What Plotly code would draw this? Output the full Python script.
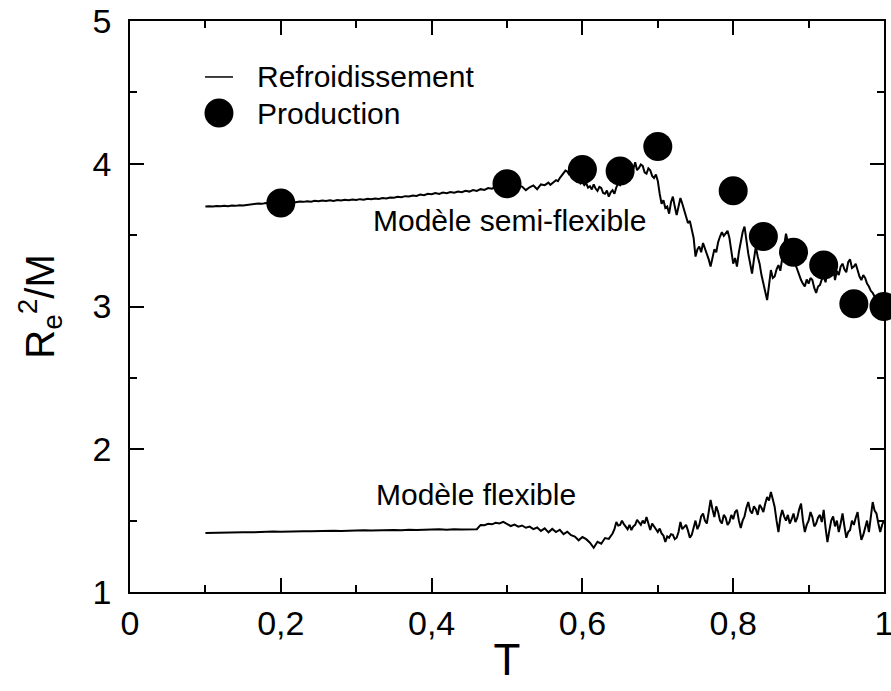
import plotly.graph_objects as go

# --- Data -------------------------------------------------------------
# Cooling run ("Refroidissement"), semi-flexible model: (T, Re^2/M)
semi_pts = [
    (0.100, 3.700), (0.105, 3.703), (0.110, 3.700), (0.115, 3.704), (0.120, 3.702),
    (0.125, 3.706), (0.130, 3.703), (0.135, 3.707), (0.140, 3.705), (0.145, 3.710),
    (0.150, 3.708), (0.155, 3.712), (0.160, 3.711), (0.165, 3.716), (0.170, 3.722),
    (0.175, 3.719), (0.180, 3.725), (0.185, 3.723), (0.190, 3.727), (0.195, 3.725),
    (0.200, 3.728), (0.205, 3.730), (0.210, 3.727), (0.215, 3.732), (0.220, 3.730),
    (0.225, 3.735), (0.230, 3.733), (0.235, 3.738), (0.240, 3.734), (0.245, 3.740),
    (0.250, 3.737), (0.255, 3.742), (0.260, 3.739), (0.265, 3.744), (0.270, 3.740),
    (0.275, 3.746), (0.280, 3.742), (0.285, 3.748), (0.290, 3.745), (0.295, 3.750),
    (0.300, 3.746), (0.305, 3.752), (0.310, 3.748), (0.315, 3.755), (0.320, 3.751),
    (0.325, 3.757), (0.330, 3.753), (0.335, 3.760), (0.340, 3.757), (0.345, 3.764),
    (0.350, 3.762), (0.355, 3.768), (0.360, 3.765), (0.365, 3.773), (0.370, 3.770),
    (0.375, 3.778), (0.380, 3.775), (0.385, 3.784), (0.390, 3.780), (0.395, 3.790),
    (0.400, 3.786), (0.405, 3.795), (0.410, 3.788), (0.415, 3.798), (0.420, 3.794),
    (0.425, 3.802), (0.430, 3.797), (0.435, 3.806), (0.440, 3.800), (0.445, 3.810),
    (0.450, 3.805), (0.455, 3.816), (0.460, 3.810), (0.465, 3.822), (0.470, 3.817),
    (0.475, 3.830), (0.480, 3.825), (0.485, 3.838), (0.490, 3.835), (0.495, 3.845),
    (0.500, 3.842), (0.505, 3.848), (0.510, 3.836), (0.515, 3.845), (0.520, 3.840),
    (0.525, 3.815), (0.530, 3.835), (0.535, 3.848), (0.540, 3.822), (0.545, 3.855),
    (0.5500, 3.850), (0.5525, 3.862), (0.5550, 3.868), (0.5575, 3.852), (0.5600, 3.860),
    (0.5625, 3.874), (0.5650, 3.885), (0.5675, 3.878), (0.5700, 3.900), (0.5725, 3.918),
    (0.5750, 3.935), (0.5775, 3.952), (0.5800, 3.945), (0.5825, 3.925), (0.5850, 3.930),
    (0.5875, 3.905), (0.5900, 3.915), (0.5925, 3.880), (0.5950, 3.890), (0.5975, 3.862),
    (0.6000, 3.870), (0.6025, 3.850), (0.6050, 3.865), (0.6075, 3.832), (0.6100, 3.842),
    (0.6125, 3.820), (0.6150, 3.855), (0.6175, 3.826), (0.6200, 3.810), (0.6225, 3.838),
    (0.6250, 3.830), (0.6275, 3.795), (0.6300, 3.790), (0.6325, 3.812), (0.6350, 3.770),
    (0.6375, 3.800), (0.6400, 3.815), (0.6425, 3.790), (0.6450, 3.835), (0.6475, 3.860),
    (0.6500, 3.850), (0.6525, 3.880), (0.6550, 3.900), (0.6575, 3.935), (0.6600, 3.960),
    (0.6625, 3.945), (0.6650, 3.985), (0.6675, 3.962), (0.6700, 4.010), (0.6725, 3.955),
    (0.6750, 3.970), (0.6775, 3.995), (0.6800, 3.985), (0.6825, 3.940), (0.6850, 3.930),
    (0.6875, 3.968), (0.6900, 3.955), (0.6925, 3.915), (0.6950, 3.900), (0.6975, 3.925),
    (0.7000, 3.880), (0.7025, 3.790), (0.7050, 3.720), (0.7075, 3.745), (0.7100, 3.690),
    (0.7125, 3.700), (0.7150, 3.650), (0.7175, 3.730), (0.7200, 3.770), (0.7225, 3.700),
    (0.7250, 3.640), (0.7275, 3.700), (0.7300, 3.760), (0.7325, 3.720), (0.7350, 3.680),
    (0.7375, 3.640), (0.7400, 3.585), (0.7425, 3.600), (0.7450, 3.550), (0.7475, 3.480),
    (0.7500, 3.350), (0.7525, 3.400), (0.7550, 3.420), (0.7575, 3.380), (0.7600, 3.445),
    (0.7625, 3.410), (0.7650, 3.370), (0.7675, 3.330), (0.7700, 3.280), (0.7725, 3.350),
    (0.7750, 3.400), (0.7775, 3.380), (0.7800, 3.450), (0.7825, 3.490), (0.7850, 3.520),
    (0.7875, 3.495), (0.7900, 3.510), (0.7925, 3.530), (0.7950, 3.480), (0.7975, 3.380),
    (0.8000, 3.300), (0.8025, 3.340), (0.8050, 3.280), (0.8075, 3.380), (0.8100, 3.450),
    (0.8125, 3.520), (0.8150, 3.560), (0.8175, 3.450), (0.8200, 3.370), (0.8225, 3.300),
    (0.8250, 3.230), (0.8275, 3.330), (0.8300, 3.420), (0.8325, 3.350), (0.8350, 3.300),
    (0.8375, 3.220), (0.8400, 3.165), (0.8425, 3.100), (0.8450, 3.045), (0.8475, 3.150),
    (0.8500, 3.255), (0.8525, 3.200), (0.8550, 3.210), (0.8575, 3.260), (0.8600, 3.290),
    (0.8625, 3.250), (0.8650, 3.330), (0.8675, 3.420), (0.8700, 3.510), (0.8725, 3.450),
    (0.8750, 3.420), (0.8775, 3.370), (0.8800, 3.330), (0.8825, 3.290), (0.8850, 3.250),
    (0.8875, 3.210), (0.8900, 3.185), (0.8925, 3.160), (0.8950, 3.140), (0.8975, 3.190),
    (0.9000, 3.160), (0.9025, 3.200), (0.9050, 3.185), (0.9075, 3.130), (0.9100, 3.095),
    (0.9125, 3.140), (0.9150, 3.150), (0.9175, 3.190), (0.9200, 3.210), (0.9225, 3.170),
    (0.9250, 3.255), (0.9275, 3.220), (0.9300, 3.240), (0.9325, 3.290), (0.9350, 3.185),
    (0.9375, 3.250), (0.9400, 3.220), (0.9425, 3.280), (0.9450, 3.300), (0.9475, 3.260),
    (0.9500, 3.240), (0.9525, 3.310), (0.9550, 3.330), (0.9575, 3.270), (0.9600, 3.280),
    (0.9625, 3.300), (0.9650, 3.250), (0.9675, 3.210), (0.9700, 3.185), (0.9725, 3.220),
    (0.9750, 3.200), (0.9775, 3.160), (0.9800, 3.140), (0.9825, 3.110), (0.9850, 3.095),
    (0.9875, 3.070), (0.9900, 3.060), (0.9925, 3.075), (0.9950, 3.045), (0.9975, 3.060),
    (1.0000, 3.050),
]
T_semi = [p[0] for p in semi_pts]
R2_semi = [p[1] for p in semi_pts]

# Cooling run ("Refroidissement"), flexible model: (T, Re^2/M)
flex_pts = [
    (0.10, 1.413), (0.11, 1.415), (0.12, 1.414), (0.13, 1.417), (0.14, 1.416),
    (0.15, 1.419), (0.16, 1.418), (0.17, 1.421), (0.18, 1.420), (0.19, 1.423),
    (0.20, 1.422), (0.21, 1.425), (0.22, 1.423), (0.23, 1.426), (0.24, 1.425),
    (0.25, 1.428), (0.26, 1.426), (0.27, 1.429), (0.28, 1.428), (0.29, 1.431),
    (0.30, 1.429), (0.31, 1.432), (0.32, 1.430), (0.33, 1.433), (0.34, 1.431),
    (0.35, 1.435), (0.36, 1.432), (0.37, 1.436), (0.38, 1.434), (0.39, 1.437),
    (0.40, 1.435), (0.41, 1.439), (0.42, 1.436), (0.43, 1.440), (0.44, 1.437),
    (0.45, 1.441), (0.46, 1.440),
    (0.465, 1.470), (0.470, 1.468), (0.475, 1.478), (0.480, 1.474), (0.485, 1.485),
    (0.490, 1.480), (0.495, 1.492), (0.500, 1.478), (0.505, 1.462), (0.510, 1.472),
    (0.515, 1.458), (0.520, 1.466), (0.525, 1.450), (0.530, 1.458), (0.535, 1.440),
    (0.540, 1.452), (0.545, 1.428), (0.550, 1.446), (0.555, 1.418), (0.560, 1.442),
    (0.565, 1.420), (0.570, 1.436), (0.575, 1.405), (0.580, 1.422), (0.585, 1.398),
    (0.590, 1.388), (0.595, 1.362), (0.600, 1.385), (0.605, 1.370), (0.610, 1.345),
    (0.615, 1.310), (0.620, 1.352), (0.625, 1.338), (0.630, 1.378), (0.635, 1.372),
    (0.640, 1.410),
    (0.6425, 1.440), (0.6450, 1.490), (0.6475, 1.465), (0.6500, 1.470), (0.6525, 1.500),
    (0.6550, 1.475), (0.6575, 1.455), (0.6600, 1.440), (0.6625, 1.470), (0.6650, 1.434),
    (0.6675, 1.460), (0.6700, 1.470), (0.6725, 1.505), (0.6750, 1.490), (0.6775, 1.470),
    (0.6800, 1.500), (0.6825, 1.480), (0.6850, 1.525), (0.6875, 1.470), (0.6900, 1.434),
    (0.6925, 1.480), (0.6950, 1.460), (0.6975, 1.440), (0.7000, 1.420), (0.7025, 1.445),
    (0.7050, 1.410), (0.7075, 1.395), (0.7100, 1.350), (0.7125, 1.390), (0.7150, 1.380),
    (0.7175, 1.405), (0.7200, 1.400), (0.7225, 1.370), (0.7250, 1.380), (0.7275, 1.420),
    (0.7300, 1.490), (0.7325, 1.440), (0.7350, 1.455), (0.7375, 1.470), (0.7400, 1.430),
    (0.7425, 1.380), (0.7450, 1.400), (0.7475, 1.450), (0.7500, 1.500), (0.7525, 1.440),
    (0.7550, 1.470), (0.7575, 1.530), (0.7600, 1.550), (0.7625, 1.500), (0.7650, 1.480),
    (0.7675, 1.560), (0.7700, 1.645), (0.7725, 1.580), (0.7750, 1.525), (0.7775, 1.600),
    (0.7800, 1.560), (0.7825, 1.500), (0.7850, 1.480), (0.7875, 1.540), (0.7900, 1.520),
    (0.7925, 1.470), (0.7950, 1.490), (0.7975, 1.540), (0.8000, 1.510), (0.8025, 1.560),
    (0.8050, 1.575), (0.8075, 1.500), (0.8100, 1.448), (0.8125, 1.500), (0.8150, 1.530),
    (0.8175, 1.590), (0.8200, 1.630), (0.8225, 1.570), (0.8250, 1.550), (0.8275, 1.600),
    (0.8300, 1.580), (0.8325, 1.540), (0.8350, 1.610), (0.8375, 1.590), (0.8400, 1.560),
    (0.8425, 1.620), (0.8450, 1.665), (0.8475, 1.640), (0.8500, 1.700), (0.8525, 1.650),
    (0.8550, 1.595), (0.8575, 1.500), (0.8600, 1.420), (0.8625, 1.520), (0.8650, 1.575),
    (0.8675, 1.530), (0.8700, 1.500), (0.8725, 1.540), (0.8750, 1.480), (0.8775, 1.510),
    (0.8800, 1.550), (0.8825, 1.490), (0.8850, 1.520), (0.8875, 1.580), (0.8900, 1.620),
    (0.8925, 1.500), (0.8950, 1.420), (0.8975, 1.470), (0.9000, 1.500), (0.9025, 1.560),
    (0.9050, 1.525), (0.9075, 1.460), (0.9100, 1.480), (0.9125, 1.520), (0.9150, 1.540),
    (0.9175, 1.490), (0.9200, 1.575), (0.9225, 1.450), (0.9250, 1.350), (0.9275, 1.430),
    (0.9300, 1.500), (0.9325, 1.530), (0.9350, 1.460), (0.9375, 1.500), (0.9400, 1.420),
    (0.9425, 1.480), (0.9450, 1.550), (0.9475, 1.460), (0.9500, 1.380), (0.9525, 1.420),
    (0.9550, 1.434), (0.9575, 1.500), (0.9600, 1.470), (0.9625, 1.520), (0.9650, 1.560),
    (0.9675, 1.450), (0.9700, 1.365), (0.9725, 1.400), (0.9750, 1.448), (0.9775, 1.500),
    (0.9800, 1.420), (0.9825, 1.520), (0.9850, 1.630), (0.9875, 1.570), (0.9900, 1.550),
    (0.9925, 1.480), (0.9950, 1.420), (0.9975, 1.470), (1.0000, 1.500),
]
T_flex = [p[0] for p in flex_pts]
R2_flex = [p[1] for p in flex_pts]

# Production runs (points)
T_prod = [0.20, 0.50, 0.60, 0.65, 0.70, 0.80, 0.84, 0.88, 0.92, 0.96, 1.00]
R2_prod = [3.725, 3.86, 3.96, 3.95, 4.12, 3.81, 3.49, 3.38, 3.29, 3.02, 3.00]

x_tickvals = [0, 0.2, 0.4, 0.6, 0.8, 1.0]
x_ticktext = ["0", "0,2", "0,4", "0,6", "0,8", "1"]
y_tickvals = [1, 2, 3, 4, 5]
y_ticktext = ["1", "2", "3", "4", "5"]

legend_labels = ["Refroidissement", "Production"]
curve_labels = ["Modèle semi-flexible", "Modèle flexible"]

FONT = "Liberation Sans, Arial, Helvetica, sans-serif"

# --- Figure -----------------------------------------------------------
fig = go.Figure()
fig.add_trace(go.Scatter(x=T_semi, y=R2_semi, mode="lines",
                         line=dict(color="black", width=2), showlegend=False))
fig.add_trace(go.Scatter(x=T_flex, y=R2_flex, mode="lines",
                         line=dict(color="black", width=2), showlegend=False))
fig.add_trace(go.Scatter(x=T_prod, y=R2_prod, mode="markers",
                         marker=dict(color="black", size=29, line=dict(width=0)),
                         cliponaxis=False, showlegend=False))

axis_common = dict(
    showline=True, linecolor="black", linewidth=1.5, mirror="ticks",
    ticks="inside", ticklen=14, tickwidth=1.5, tickcolor="black",
    showgrid=False, zeroline=False, automargin=False,
    ticklabeloverflow="allow",
    tickfont=dict(family=FONT, size=34, color="black"),
)

fig.update_xaxes(range=[0, 1], tickvals=x_tickvals, ticktext=x_ticktext,
                 minor=dict(ticks="inside", ticklen=7, tickwidth=1.5,
                            tickcolor="black", dtick=0.1, tick0=0),
                 ticklabelstandoff=0,
                 title=dict(text="T", font=dict(family=FONT, size=44, color="black"),
                            standoff=4),
                 **axis_common)
fig.update_yaxes(range=[1, 5], tickvals=y_tickvals, ticktext=y_ticktext,
                 minor=dict(ticks="inside", ticklen=7, tickwidth=1.5,
                            tickcolor="black", dtick=0.5, tick0=0),
                 ticklabelstandoff=10,
                 title=dict(text="R<sub>e</sub><sup>2</sup>/M",
                            font=dict(family=FONT, size=40, color="black"),
                            standoff=26),
                 **axis_common)

# Legend drawn by hand (paper coordinates)
shapes = [
    dict(type="line", xref="paper", yref="paper", x0=0.0995, x1=0.1366,
         y0=0.902, y1=0.902, line=dict(color="black", width=1.5)),
    dict(type="circle", xref="paper", yref="paper", x0=0.118 - 0.0192,
         x1=0.118 + 0.0192, y0=0.839 - 0.0254, y1=0.839 + 0.0254,
         fillcolor="black", line=dict(width=0)),
]
annotations = [
    dict(text=legend_labels[0], xref="paper", yref="paper", x=0.166, y=0.902,
         xanchor="left", yanchor="middle", showarrow=False,
         font=dict(family=FONT, size=30, color="black")),
    dict(text=legend_labels[1], xref="paper", yref="paper", x=0.166, y=0.838,
         xanchor="left", yanchor="middle", showarrow=False,
         font=dict(family=FONT, size=30, color="black")),
    dict(text=curve_labels[0], x=0.320, y=3.60, xanchor="left", yanchor="middle",
         showarrow=False, font=dict(family=FONT, size=30, color="black")),
    dict(text=curve_labels[1], x=0.324, y=1.68, xanchor="left", yanchor="middle",
         showarrow=False, font=dict(family=FONT, size=30, color="black")),
]

fig.update_layout(
    width=891, height=691,
    margin=dict(l=130, r=7, t=21, b=99),
    paper_bgcolor="white", plot_bgcolor="white",
    shapes=shapes, annotations=annotations,
    font=dict(family=FONT, color="black"),
)

fig.write_html("out.html")
